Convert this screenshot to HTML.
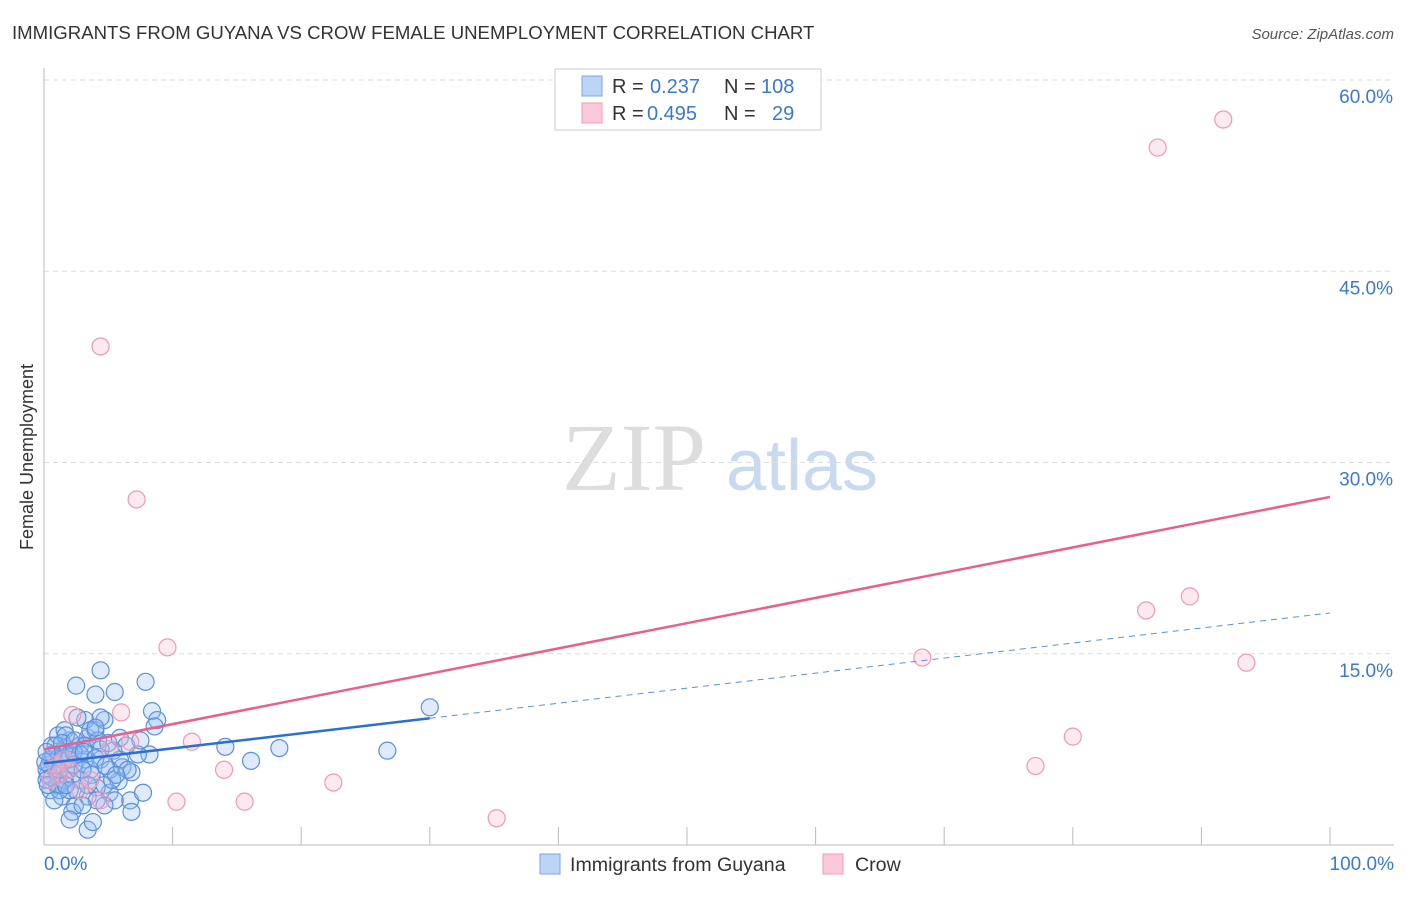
<!DOCTYPE html>
<html><head><meta charset="utf-8">
<style>
body{margin:0;background:#fff;font-family:"Liberation Sans",sans-serif;}
</style></head>
<body>
<svg id="chart" width="1406" height="892" font-family="Liberation Sans, sans-serif">
<text x="12" y="39" font-size="18.6" fill="#333">IMMIGRANTS FROM GUYANA VS CROW FEMALE UNEMPLOYMENT CORRELATION CHART</text>
<text x="1394" y="39" font-size="15" fill="#555" font-style="italic" text-anchor="end">Source: ZipAtlas.com</text>
<text x="33" y="457" font-size="18" fill="#333" text-anchor="middle" transform="rotate(-90 33 457)">Female Unemployment</text>
<g>
<text x="634" y="490" font-size="96" fill="#ddd" style="font-family:'Liberation Serif',serif" text-anchor="middle">ZIP</text>
<text x="802" y="490" font-size="72" fill="#c9daf0" text-anchor="middle">atlas</text>
</g>
<g id="grid"></g>
<g id="axes"></g>
<g id="marks"></g>
<g>
<rect x="555" y="69" width="266" height="61" fill="#fff" stroke="#ccc"/>
<rect x="582" y="76" width="20" height="20" fill="#bcd4f6" stroke="#7aa6e8"/>
<rect x="582" y="103" width="20" height="20" fill="#fcc9d8" stroke="#f09ab5"/>
<text x="612" y="93" font-size="20" fill="#333">R = </text><text x="650" y="93" font-size="20" fill="#3a78d4">0.237</text>
<text x="724" y="93" font-size="20" fill="#333">N = </text><text x="761" y="93" font-size="20" fill="#3a78d4">108</text>
<text x="612" y="120" font-size="20" fill="#333">R = </text><text x="647" y="120" font-size="20" fill="#3a78d4">0.495</text>
<text x="724" y="120" font-size="20" fill="#333">N = </text><text x="772" y="120" font-size="20" fill="#3a78d4">29</text>
</g>
<g>
<rect x="540" y="854" width="20" height="20" fill="#bcd4f6" stroke="#7aa6e8"/>
<text x="570" y="871" font-size="19.6" fill="#333">Immigrants from Guyana</text>
<rect x="823" y="854" width="20" height="20" fill="#fcc9d8" stroke="#f09ab5"/>
<text x="855" y="871" font-size="19.6" fill="#333">Crow</text>
</g>
</svg>
<script>
const yTicks=[15,30,45,60];
const yTickLabels=["15.0%","30.0%","45.0%","60.0%"];
const xTickValues=[0,10,20,30,40,50,60,70,80,90,100];
const blueX=[4.4,2.5,4.0,5.5,7.9,8.4,8.8,8.6,30.0,26.7,18.3,16.1,14.1,8.2,6.1,7.3,6.8,5.8,5.1,4.1,6.7,7.7,6.8,3.4,2.4,2.2,2.0,3.4,3.8,1.4,1.2,0.9,0.5,0.3,0.6,1.1,1.6,2.0,2.8,3.4,4.0,4.7,4.4,3.6,2.8,2.5,5.1,5.4,5.9,4.4,3.2,2.6,1.6,1.2,0.9,0.2,0.2,0.5,1.1,1.4,1.9,2.2,3.2,3.7,4.7,5.5,2.0,1.7,0.9,1.4,2.4,3.2,2.8,3.4,4.1,4.7,0.4,0.7,1.0,1.6,0.1,0.2,0.6,1.2,1.9,2.3,3.0,3.6,4.2,5.0,5.9,6.4,7.5,6.5,5.3,4.4,4.0,3.0,2.0,1.2,0.8,0.3,1.7,2.3,3.1,4.0,4.8,5.6];
const blueY=[13.7,12.5,11.8,12.0,12.8,10.5,9.8,9.3,10.8,7.4,7.6,6.6,7.7,7.1,6.1,7.1,5.7,5.0,4.1,4.5,3.5,4.1,2.6,3.8,3.1,2.6,2.0,1.2,1.8,3.8,4.7,5.9,6.7,5.5,7.8,8.6,7.6,8.2,7.8,8.4,9.0,9.8,6.7,5.9,5.1,4.3,5.9,7.4,6.7,7.5,9.8,10.0,9.0,6.9,6.3,5.9,5.1,4.3,5.5,6.7,5.9,5.5,6.7,5.5,4.7,3.5,7.1,8.6,7.8,8.0,8.2,7.8,7.1,4.7,3.5,3.1,6.3,7.1,4.7,5.1,6.5,7.3,5.3,5.9,6.7,6.3,5.9,9.0,8.2,8.0,8.4,7.8,8.2,5.9,5.1,10.0,9.2,3.1,4.3,4.3,3.5,4.7,4.7,7.3,7.3,6.8,6.2,5.5];
const pinkX=[4.4,7.2,9.6,86.6,91.7,89.1,85.7,68.3,93.5,80.0,77.1,35.2,22.5,15.6,14.0,10.3,11.5,6.0,2.2,5.1,6.7,2.8,1.2,0.5,2.0,3.6,4.4,1.6,0.9];
const pinkY=[39.1,27.1,15.5,54.7,56.9,19.5,18.4,14.7,14.3,8.5,6.2,2.1,4.9,3.4,5.9,3.4,8.1,10.4,10.2,7.5,8.1,4.3,5.5,5.1,5.9,5.1,3.5,6.7,6.3];
const blueTrend=[6.4,0.118];
const pinkTrend=[7.5,0.198];
const NS="http://www.w3.org/2000/svg";
const X0=44,X1=1330,Y0=845,PPY=12.75;
const sx=v=>X0+(X1-X0)*v/100;
const sy=v=>Y0-v*PPY;
function mk(tag,attrs,parent){const e=document.createElementNS(NS,tag);for(const k in attrs)e.setAttribute(k,attrs[k]);parent.appendChild(e);return e;}
const grid=document.getElementById('grid'),axes=document.getElementById('axes'),marks=document.getElementById('marks');
yTicks.forEach((t,i)=>{
 const l=mk('line',{x1:X0,x2:1394,y1:sy(t),y2:sy(t),stroke:'#ddd','stroke-dasharray':'5,4'},grid);
 
 
 const tx=mk('text',{x:1393,y:sy(t)+23,'font-size':19,fill:'#3a78d4','text-anchor':'end'},axes);
 tx.textContent=yTickLabels[i];
 
 
});
const ya=mk('line',{x1:X0,x2:X0,y1:68,y2:Y0,stroke:'#bbb'},axes);


const xa=mk('line',{x1:X0,x2:1394,y1:Y0,y2:Y0,stroke:'#bbb'},axes);


xTickValues.forEach(t=>{
 const l=mk('line',{x1:sx(t),x2:sx(t),y1:Y0,y2:Y0-18,stroke:'#bbb'},axes);
 
 
});
const xl0=mk('text',{x:44,y:870,'font-size':19,fill:'#3a78d4'},axes);xl0.textContent='0.0%';


const xl1=mk('text',{x:1394,y:870,'font-size':19,fill:'#3a78d4','text-anchor':'end'},axes);xl1.textContent='100.0%';


blueX.forEach((v,i)=>{
 const c=mk('circle',{cx:sx(v),cy:sy(blueY[i]),r:8.5,fill:'rgba(150,190,245,0.3)',stroke:'#5b8fdc','stroke-width':1.2},marks);
 
 
});
pinkX.forEach((v,i)=>{
 const c=mk('circle',{cx:sx(v),cy:sy(pinkY[i]),r:8.5,fill:'rgba(248,185,205,0.3)',stroke:'#ec9ab4','stroke-width':1.2},marks);
 
 
});
const f=(t,x)=>t[0]+t[1]*x;
const pl=mk('line',{x1:sx(0),y1:sy(f(pinkTrend,0)),x2:sx(100),y2:sy(f(pinkTrend,100)),stroke:'#e8608c','stroke-width':2.5},marks);


const bl=mk('line',{x1:sx(0),y1:sy(f(blueTrend,0)),x2:sx(30),y2:sy(f(blueTrend,30)),stroke:'#2a6fd6','stroke-width':2.5},marks);


const bd=mk('line',{x1:sx(30),y1:sy(f(blueTrend,30)),x2:sx(100),y2:sy(f(blueTrend,100)),stroke:'#5b8fdc','stroke-width':1,'stroke-dasharray':'6,5'},marks);


</script>
</body></html>
